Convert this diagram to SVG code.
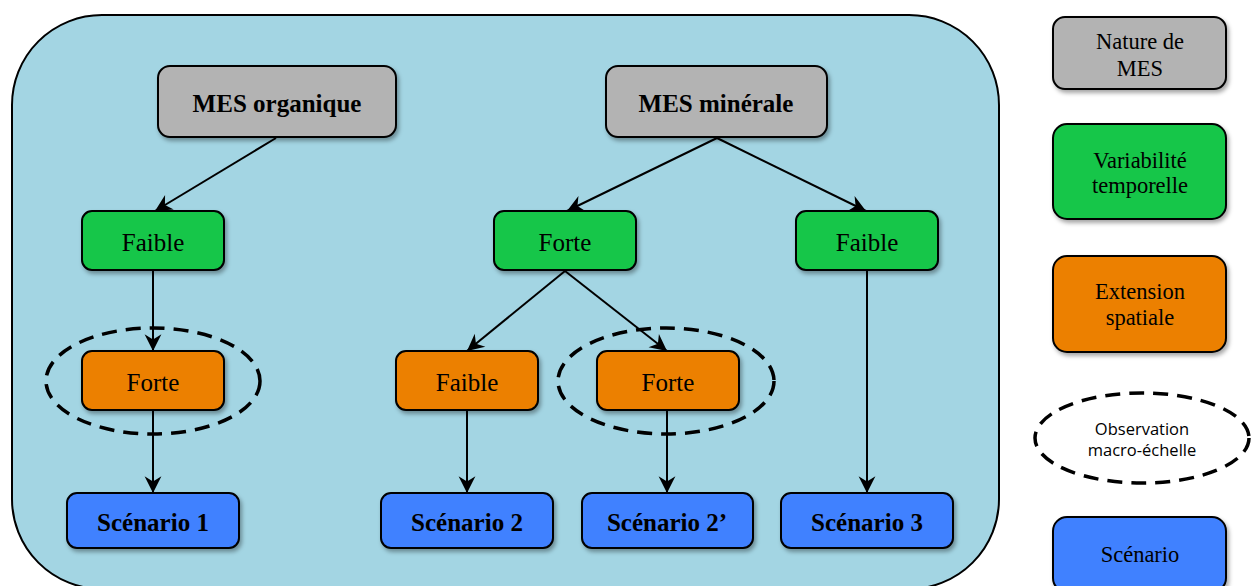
<svg xmlns="http://www.w3.org/2000/svg" width="1251" height="586" viewBox="0 0 1251 586">
<defs>
<style>
.box{stroke:#000;stroke-width:2;filter:url(#sh)}
.gray{fill:#b3b3b3}.green{fill:#14c64a}.orange{fill:#ec8005}.blue{fill:#4181ff}
.t{font-family:"Liberation Serif","Times New Roman",serif;font-size:25px;fill:#000;text-anchor:middle}
.b{font-weight:bold}
.lt{font-family:"Liberation Serif","Times New Roman",serif;font-size:22.5px;fill:#000;text-anchor:middle}
.st{font-family:"Open Sans","Liberation Sans",sans-serif;font-size:16.5px;fill:#000;text-anchor:middle}
.dash{fill:none;stroke:#000;stroke-width:3.5;stroke-dasharray:15 9}
.con{fill:none;stroke:#000;stroke-width:2;marker-end:url(#ah)}
</style>
<filter id="sh" x="-10%" y="-10%" width="130%" height="140%">
<feDropShadow dx="2" dy="3" stdDeviation="2" flood-color="#000" flood-opacity="0.35"/>
</filter>
<marker id="ah" markerUnits="userSpaceOnUse" markerWidth="20" markerHeight="20" viewBox="-17 -9 19 18" refX="0" refY="0" orient="auto">
<path d="M0,0 L-16,-8 L-11,0 L-16,8 Z" fill="#000"/>
</marker>
</defs>
<rect x="12" y="15" width="987" height="574" rx="90" ry="90" fill="#a3d5e3" stroke="#000" stroke-width="2"/>

<g id="connectors">
<line class="con" x1="276" y1="138" x2="155" y2="211"/>
<line class="con" x1="153" y1="271" x2="153" y2="351"/>
<line class="con" x1="153" y1="411" x2="153" y2="493"/>
<line class="con" x1="717" y1="138" x2="567" y2="211"/>
<line class="con" x1="717" y1="138" x2="866" y2="211"/>
<line class="con" x1="565" y1="271" x2="467" y2="351"/>
<line class="con" x1="565" y1="271" x2="667" y2="351"/>
<line class="con" x1="467" y1="411" x2="467" y2="493"/>
<line class="con" x1="667" y1="411" x2="667" y2="493"/>
<line class="con" x1="867" y1="271" x2="867" y2="493"/>
</g>

<g id="mes-organique"><rect class="box gray" x="158" y="66" width="238" height="71" rx="12"/><text class="t b" x="277" y="112">MES organique</text></g>
<g id="mes-minerale"><rect class="box gray" x="606" y="66" width="221" height="71" rx="12"/><text class="t b" x="716" y="112">MES minérale</text></g>

<g id="faible-1"><rect class="box green" x="82" y="211" width="142" height="59" rx="10"/><text class="t" x="153" y="251">Faible</text></g>
<g id="forte-1"><rect class="box green" x="494" y="211" width="142" height="59" rx="10"/><text class="t" x="565" y="251">Forte</text></g>
<g id="faible-2"><rect class="box green" x="796" y="211" width="142" height="59" rx="10"/><text class="t" x="867" y="251">Faible</text></g>

<g id="forte-2"><rect class="box orange" x="82" y="351" width="142" height="59" rx="10"/><text class="t" x="153" y="391">Forte</text></g>
<g id="faible-3"><rect class="box orange" x="396" y="351" width="142" height="59" rx="10"/><text class="t" x="467" y="391">Faible</text></g>
<g id="forte-3"><rect class="box orange" x="597" y="351" width="142" height="59" rx="10"/><text class="t" x="668" y="391">Forte</text></g>

<g id="ellipse-1"><ellipse class="dash" cx="153" cy="381" rx="107" ry="53"/></g>
<g id="ellipse-2"><ellipse class="dash" cx="666" cy="381" rx="108" ry="53"/></g>

<g id="scenario-1"><rect class="box blue" x="67" y="493" width="172" height="55" rx="10"/><text class="t b" x="153" y="531">Scénario 1</text></g>
<g id="scenario-2"><rect class="box blue" x="381" y="493" width="172" height="55" rx="10"/><text class="t b" x="467" y="531">Scénario 2</text></g>
<g id="scenario-2p"><rect class="box blue" x="582" y="493" width="171" height="55" rx="10"/><text class="t b" x="667" y="531">Scénario 2’</text></g>
<g id="scenario-3"><rect class="box blue" x="781" y="493" width="172" height="55" rx="10"/><text class="t b" x="867" y="531">Scénario 3</text></g>

<g id="legend-nature"><rect class="box gray" x="1053" y="17" width="173" height="72" rx="12"/><text class="lt" x="1140" y="49">Nature de</text><text class="lt" x="1140" y="76">MES</text></g>
<g id="legend-variabilite"><rect class="box green" x="1053" y="124" width="173" height="95" rx="14"/><text class="lt" x="1140" y="168">Variabilité</text><text class="lt" x="1140" y="193">temporelle</text></g>
<g id="legend-extension"><rect class="box orange" x="1053" y="256" width="173" height="96" rx="14"/><text class="lt" x="1140" y="299">Extension</text><text class="lt" x="1140" y="325">spatiale</text></g>
<g id="legend-observation"><ellipse class="dash" cx="1142" cy="438" rx="107" ry="45"/><text class="st" x="1142" y="435">Observation</text><text class="st" x="1142" y="456">macro-échelle</text></g>
<g id="legend-scenario"><rect class="box blue" x="1053" y="517" width="173" height="75" rx="14"/><text class="lt" x="1140" y="562">Scénario</text></g>
</svg>
